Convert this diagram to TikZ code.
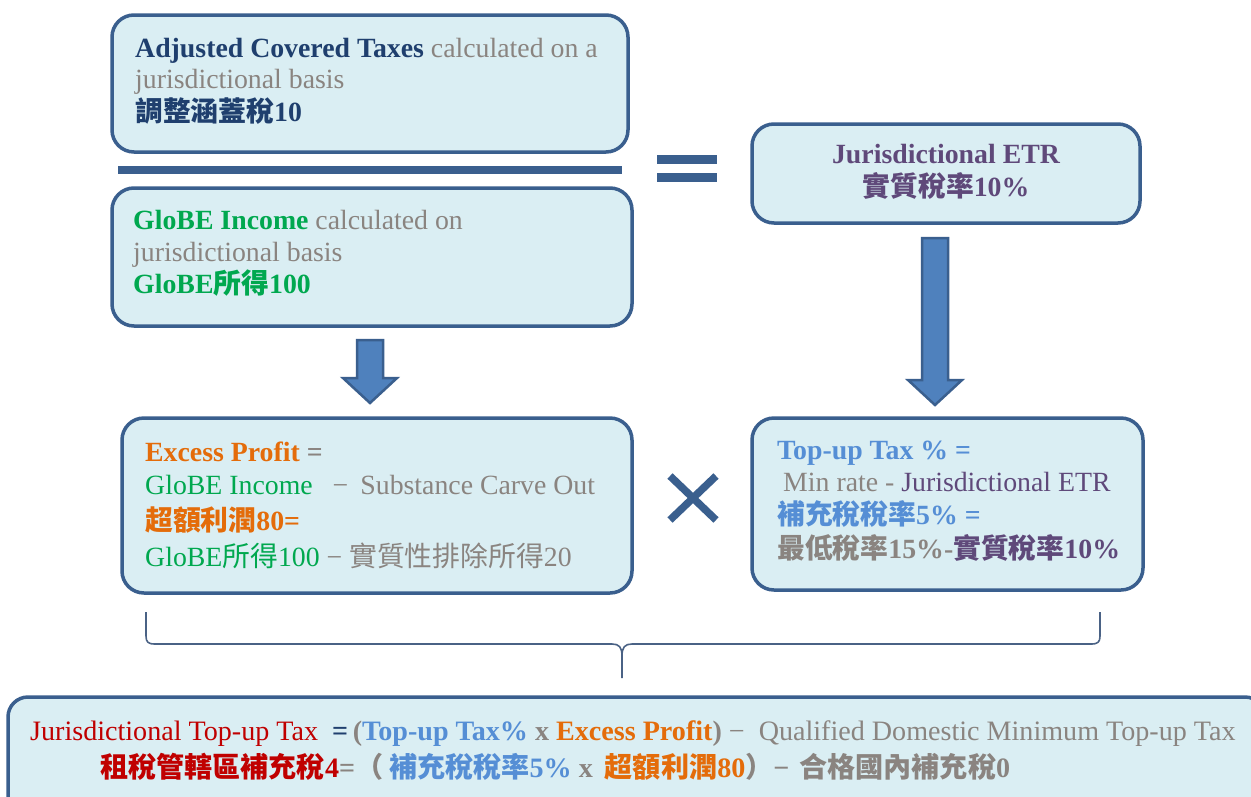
\documentclass[tikz,border=0pt]{standalone}
\usepackage{fontspec}
\setmainfont{Liberation Serif}
\newfontfamily\cjk{Noto Sans CJK TC}
\usetikzlibrary{calc}

\definecolor{boxfill}{HTML}{DAEEF3}
\definecolor{boxline}{HTML}{3A5F8E}
\definecolor{arrowfill}{HTML}{4F81BD}
\definecolor{bracecol}{HTML}{4A6285}
\definecolor{navy}{HTML}{1F3F6E}
\definecolor{txtgray}{HTML}{8A8480}
\definecolor{txtgreen}{HTML}{00A84F}
\definecolor{txtpurple}{HTML}{5F497A}
\definecolor{txtorange}{HTML}{E46C0A}
\definecolor{txtblue}{HTML}{558ED5}
\definecolor{txtred}{HTML}{C00000}

\newcommand\zh[1]{{\cjk #1}}
\newcommand\ct[2]{{\color{#1}#2}}
\newcommand\fs{\fontsize{27.8}{32}\selectfont}
\newcommand\fsb{\fontsize{28.1}{32}\selectfont}

\tikzset{
  box/.style={draw=boxline, line width=3.5pt, fill=boxfill, rounded corners=22pt, inner sep=0pt},
  txt/.style={anchor=base west, inner sep=0pt, font=\fs},
  ctr/.style={anchor=base, inner sep=0pt, font=\fs},
  blockarrow/.style={draw=boxline, line width=2.5pt, fill=arrowfill, line join=miter},
  bar/.style={fill=boxline, draw=none},
  brace/.style={draw=bracecol, line width=1.6pt, line join=round},
}

\begin{document}
\begin{tikzpicture}[x=1pt,y=-1pt]
\useasboundingbox (0,0) rectangle (1251,796);
\clip (0,0) rectangle (1251,796);
\fill[white] (0,0) rectangle (1251,796);

% boxes
\node[box, minimum width=516pt, minimum height=137pt] (act) at (370,83.5) {};
\node[box, minimum width=520pt, minimum height=138pt] (gi) at (372,257) {};
\node[box, minimum width=388pt, minimum height=99pt] (etr) at (946,173.5) {};
\node[box, minimum width=510pt, minimum height=175pt] (ep) at (377,505.5) {};
\node[box, minimum width=391pt, minimum height=172pt] (tp) at (947.5,504) {};
\node[box, rounded corners=20pt, minimum width=1257pt, minimum height=118pt] (jt) at (636.5,756) {};

% fraction bar and equals sign
\fill[bar] (118,166) rectangle (622,174);
\fill[bar] (657,155) rectangle (717,164);
\fill[bar] (657,173) rectangle (717,182);

% multiplication sign
\draw[boxline, line width=7.5pt] (670,476) -- (716,520) (716,476) -- (670,520);

% block arrows
\draw[blockarrow] (357,340) -- (383,340) -- (383,378) -- (397,378) -- (370,403) -- (343,378) -- (357,378) -- cycle;
\draw[blockarrow] (922,238) -- (948,238) -- (948,380) -- (962,380) -- (935,405) -- (908,380) -- (922,380) -- cycle;

% brace
\draw[brace] (146,612) -- (146,636) .. controls (146,642) and (148,644) .. (155,644)
  -- (612,644) .. controls (619,644) and (622,647) .. (622,656) -- (622,678);
\draw[brace] (1100,612) -- (1100,636) .. controls (1100,642) and (1098,644) .. (1091,644)
  -- (632,644) .. controls (625,644) and (622,647) .. (622,656);

% adjusted covered taxes
\node[txt] (act1) at (135,57) {\ct{navy}{\bfseries Adjusted Covered Taxes} \ct{txtgray}{calculated on a}};
\node[txt, text=txtgray] (act2) at (135,88.5) {jurisdictional basis};
\node[txt, text=navy] (act3) at (135,121) {\bfseries\zh{調整涵蓋稅}10};

% GloBE income
\node[txt] (gi1) at (133,229) {\ct{txtgreen}{\bfseries GloBE Income} \ct{txtgray}{calculated on}};
\node[txt, text=txtgray] (gi2) at (133,261) {jurisdictional basis};
\node[txt, text=txtgreen] (gi3) at (133,293) {\bfseries GloBE\zh{所得}100};

% jurisdictional ETR
\node[ctr, text=txtpurple] (etr1) at (946,163) {\bfseries Jurisdictional ETR};
\node[ctr, text=txtpurple] (etr2) at (946,196) {\bfseries\zh{實質稅率}10\%};

% excess profit
\node[txt] (ep1) at (145,461) {\ct{txtorange}{\bfseries Excess Profit} \ct{txtgray}{\bfseries =}};
\node[txt] (ep2) at (145,494) {\ct{txtgreen}{GloBE Income}\hspace{20pt}\ct{txtgray}{−\hspace{12pt}Substance Carve Out}};
\node[txt, text=txtorange] (ep3) at (145,530) {\bfseries\zh{超額利潤}80=};
\node[txt] (ep4) at (145,566) {\ct{txtgreen}{GloBE\zh{所得}100} \ct{txtgray}{− \zh{實質性排除所得}20}};

% top-up tax percentage
\node[txt, text=txtblue] (tp1) at (777,459) {\bfseries Top-up Tax \% =};
\node[txt] (tp2) at (783,491) {\ct{txtgray}{Min rate - }\ct{txtpurple}{Jurisdictional ETR}};
\node[txt, text=txtblue] (tp3) at (777,524) {\bfseries\zh{補充稅稅率}5\% =};
\node[txt] (tp4) at (777,558) {\bfseries\ct{txtgray}{\zh{最低稅率}15\%-}\ct{txtpurple}{\zh{實質稅率}10\%}};

% jurisdictional top-up tax
\node[txt, font=\fsb] (jt1) at (30,740) {\ct{txtred}{Jurisdictional Top-up Tax}\ \ \ct{navy}{\bfseries =}\,\ct{txtgray}{\bfseries(}\ct{txtblue}{\bfseries Top-up Tax\%} \ct{txtgray}{\bfseries x} \ct{txtorange}{\bfseries Excess Profit}\ct{txtgray}{\bfseries)} \ct{txtgray}{−\ \ Qualified Domestic Minimum Top-up Tax}};
\node[txt, font=\fsb] (jt2) at (100,777) {\bfseries\ct{txtred}{\zh{租稅管轄區補充稅}4}\ct{txtgray}{=\zh{（}}\hspace{6pt}\ct{txtblue}{\zh{補充稅稅率}5\%}\ \ct{txtgray}{x}\hspace{12pt}\ct{txtorange}{\zh{超額利潤}80}\ct{txtgray}{\zh{）}−\hspace{10pt}\zh{合格國內補充稅}0}};
\end{tikzpicture}
\end{document}
